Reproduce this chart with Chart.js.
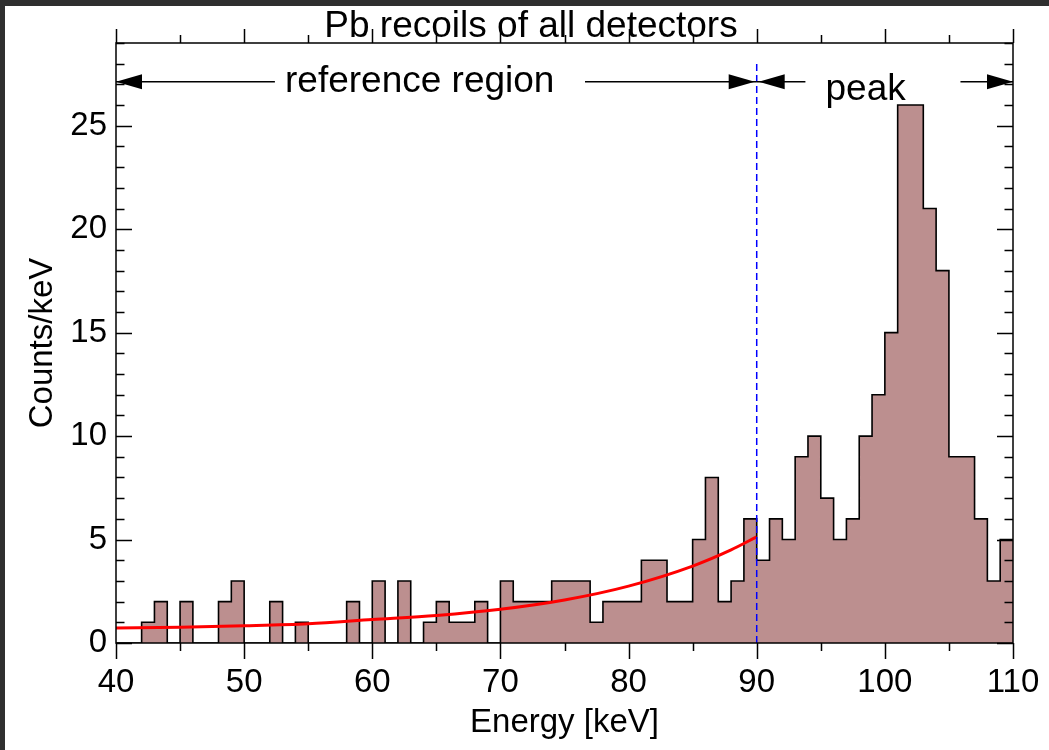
<!DOCTYPE html>
<html>
<head>
<meta charset="utf-8">
<title>Pb recoils of all detectors</title>
<script src="https://cdn.jsdelivr.net/npm/chart.js@4.4.1/dist/chart.umd.min.js"></script>
<style>
  html, body { margin: 0; padding: 0; background: #fff; }
  #wrap { position: relative; width: 1049px; height: 750px; overflow: hidden; }
  #spectrum { position: absolute; left: 0; top: 0; }
  .edge { position: absolute; background: #2f2f2f; }
</style>
</head>
<body>
<div id="wrap">
  <canvas id="spectrum" width="1049" height="750"></canvas>
  <div class="edge" style="left:0;top:0;width:1049px;height:6px"></div>
  <div class="edge" style="left:0;top:0;width:5px;height:750px"></div>
</div>
<script>
// spectrum, 1 keV bins, lower edges 40 .. 109 keV
const binStart = 40;
const binWidth = 1;
const counts = [
  0, 0, 1, 2, 0, 2, 0, 0, 2, 3,      // 40-49
  0, 0, 2, 0, 1, 0, 0, 0, 2, 0,      // 50-59
  3, 0, 3, 0, 1, 2, 1, 1, 2, 0,      // 60-69
  3, 2, 2, 2, 3, 3, 3, 1, 2, 2,      // 70-79
  2, 4, 4, 2, 2, 5, 8, 2, 3, 6,      // 80-89
  4, 6, 5, 9, 10, 7, 5, 6, 10, 12,   // 90-99
  15, 26, 26, 21, 18, 9, 9, 6, 3, 5  // 100-109
];

// background fit over the reference region
const fitEnergy = [40, 45, 50, 55, 60, 65, 70, 75, 80, 85, 88, 90];
const fitCounts = [0.72, 0.76, 0.83, 0.93, 1.13, 1.33, 1.63, 2.08, 2.75, 3.72, 4.5, 5.13];

// border between reference region and peak
const cutEnergy = 90;
const cutTop = 28.1;

const xTicks = [40, 50, 60, 70, 80, 90, 100, 110];
const yTicks = [0, 5, 10, 15, 20, 25];

const FONT = "'Liberation Sans', Arial, Helvetica, sans-serif";
Chart.defaults.color = '#000';
Chart.defaults.font.family = FONT;

const histPoints = counts.map((c, i) => ({ x: binStart + i * binWidth, y: c }));
histPoints.push({ x: binStart + counts.length * binWidth, y: counts[counts.length - 1] });

const fitPoints = fitEnergy.map((e, i) => ({ x: e, y: fitCounts[i] }));

// frame, tick marks, title and region arrows
const frameAndNotes = {
  id: 'frameAndNotes',
  afterDatasetsDraw(chart) {
    const { ctx, chartArea: a, scales: { x, y } } = chart;
    ctx.save();

    // title (the top ticks are drawn over it)
    ctx.fillStyle = '#000';
    ctx.font = `37px ${FONT}`;
    ctx.textAlign = 'center';
    ctx.textBaseline = 'alphabetic';
    ctx.fillText('Pb recoils of all detectors', 531, 37);

    ctx.strokeStyle = '#000';
    ctx.lineWidth = 1.5;
    ctx.strokeRect(a.left, a.top, a.right - a.left, a.bottom - a.top);

    ctx.beginPath();
    for (let e = x.min; e <= x.max; e += 5) {
      const px = Math.round(x.getPixelForValue(e)) + 0.5;
      const major = e % 10 === 0;
      ctx.moveTo(px, a.bottom); ctx.lineTo(px, a.bottom + (major ? 16 : 8));
      ctx.moveTo(px, a.top); ctx.lineTo(px, a.top - (major ? 14 : 8));
    }
    for (let c = y.min; c <= y.max; c++) {
      const py = Math.round(y.getPixelForValue(c)) + 0.5;
      const len = c % 5 === 0 ? 16 : 8.5;
      ctx.moveTo(a.left, py); ctx.lineTo(a.left + len, py);
      ctx.moveTo(a.right, py); ctx.lineTo(a.right - len, py);
    }
    ctx.stroke();

    // arrows marking the two regions
    const ay = y.getPixelForValue(27.13);
    const head = (tip, dir) => {
      ctx.beginPath();
      ctx.moveTo(tip, ay);
      ctx.lineTo(tip - dir * 26, ay - 7.5);
      ctx.lineTo(tip - dir * 26, ay + 7.5);
      ctx.closePath();
      ctx.fill();
    };
    const seg = (e0, e1) => {
      ctx.beginPath();
      ctx.moveTo(x.getPixelForValue(e0), ay);
      ctx.lineTo(x.getPixelForValue(e1), ay);
      ctx.stroke();
    };
    ctx.lineWidth = 1.5;
    seg(40, 52.4); seg(76.6, 90);
    head(x.getPixelForValue(40), -1);
    head(x.getPixelForValue(90) - 2, 1);
    seg(90, 93.8); seg(105.9, 110);
    head(x.getPixelForValue(90) + 2, -1);
    head(x.getPixelForValue(110), 1);

    ctx.font = `37px ${FONT}`;
    ctx.fillText('reference region', x.getPixelForValue(63.7), 92);
    ctx.fillText('peak', x.getPixelForValue(98.5), 100);

    ctx.restore();
  }
};

new Chart(document.getElementById('spectrum').getContext('2d'), {
  type: 'line',
  data: {
    datasets: [
      {
        data: [{ x: cutEnergy, y: 0 }, { x: cutEnergy, y: cutTop }],
        borderColor: '#0000ff',
        borderWidth: 1.5,
        borderDash: [7, 4],
        pointRadius: 0,
        order: 0
      },
      {
        data: fitPoints,
        borderColor: '#ff0000',
        borderWidth: 3,
        cubicInterpolationMode: 'monotone',
        pointRadius: 0,
        order: 1
      },
      {
        data: histPoints,
        stepped: true,
        borderColor: '#000',
        borderWidth: 1.6,
        backgroundColor: '#bc8f8f',
        fill: 'origin',
        pointRadius: 0,
        order: 2
      }
    ]
  },
  options: {
    responsive: false,
    animation: false,
    events: [],
    layout: { padding: { top: 43, right: 36, bottom: 0, left: 0 } },
    plugins: { legend: { display: false }, tooltip: { enabled: false } },
    scales: {
      x: {
        type: 'linear',
        min: 40,
        max: 110,
        grid: { display: false, drawTicks: false },
        border: { display: false },
        afterBuildTicks: s => { s.ticks = xTicks.map(v => ({ value: v })); },
        ticks: { font: { size: 33 }, padding: 20, maxRotation: 0, autoSkip: false },
        title: { display: true, text: 'Energy [keV]', font: { size: 33 }, padding: { top: 0, bottom: 7 } },
        afterFit: s => {
          s.height = 107;
          s.paddingLeft = 0;
          s.paddingRight = 36;
        }
      },
      y: {
        min: 0,
        max: 29,
        grid: { display: false, drawTicks: false },
        border: { display: false },
        afterBuildTicks: s => { s.ticks = yTicks.map(v => ({ value: v })); },
        ticks: { font: { size: 33 }, padding: 9, autoSkip: false },
        title: { display: true, text: 'Counts/keV', font: { size: 33 }, padding: { top: 23, bottom: 0 } },
        afterFit: s => {
          s.width = 116;
          s.paddingTop = 0;
          s.paddingBottom = 0;
        }
      }
    }
  },
  plugins: [frameAndNotes]
});
</script>
</body>
</html>
